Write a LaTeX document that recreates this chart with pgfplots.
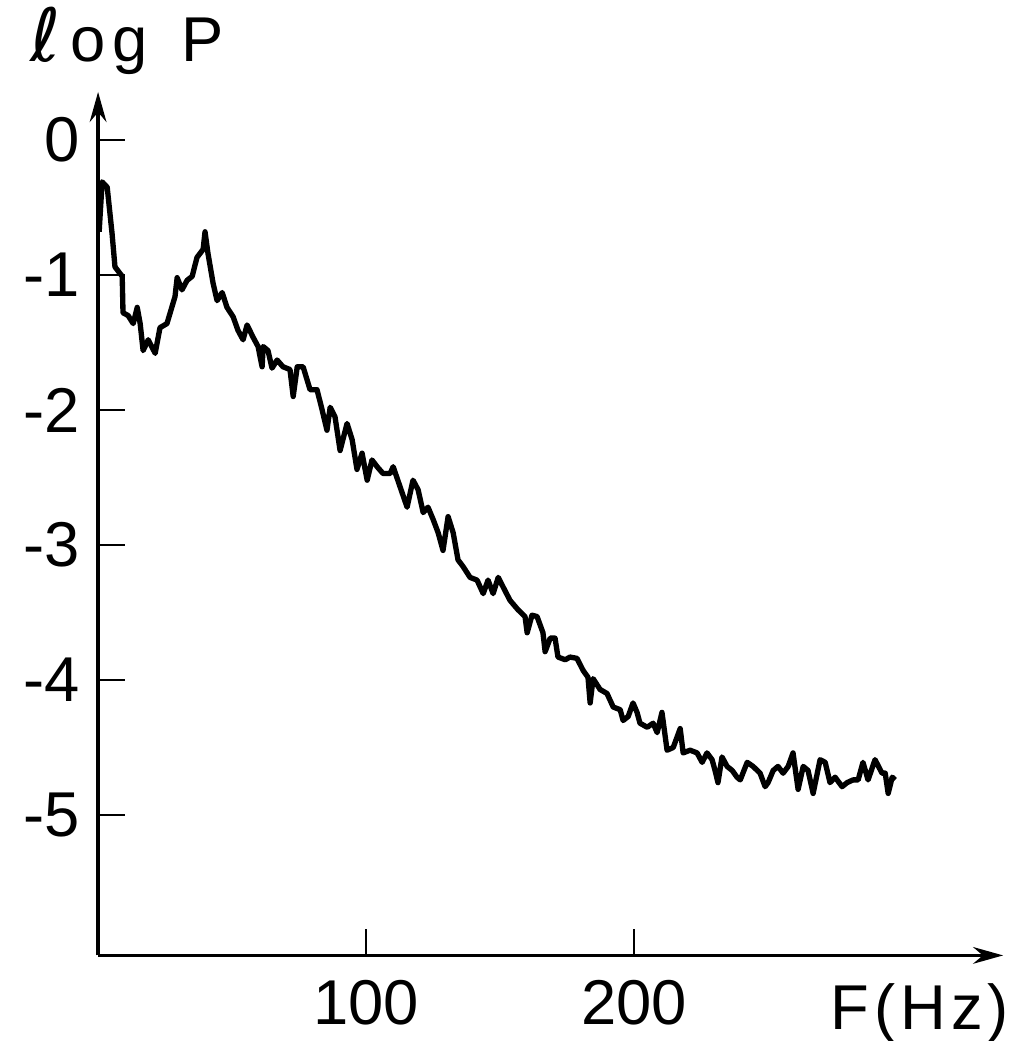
\documentclass[border=0pt]{standalone}
\usepackage{pgfplots}
\pgfplotsset{compat=1.18}
\usepackage{fontspec}
\setmainfont{Liberation Sans}
\newfontfamily\dejavu{DejaVu Sans}
\usetikzlibrary{arrows.meta}

\begin{document}
\begin{tikzpicture}
\begin{axis}[
    x=0.804pt, y=40.5pt,
    xmin=0, xmax=337.7,
    ymin=-6.04, ymax=0.356,
    axis lines=left,
    axis line style={line width=1.1pt, -{Stealth[length=9pt,width=5pt]}},
    tick align=inside,
    major tick length=8pt,
    tick style={line width=0.6pt, black},
    xtick={100,200}, xticklabels={100,200},
    ytick={-5,-4,-3,-2,-1,0}, yticklabels={-5,-4,-3,-2,-1,0},
    ticklabel style={font=\fontsize{19}{19}\selectfont},
    xticklabel style={yshift=-4pt},
    yticklabel style={xshift=-2pt},
    clip=false,
]
\addplot[black, line width=1.6pt, line join=round] coordinates {
(0.4,-0.68)(1.5,-0.31)(3.4,-0.35)(5.2,-0.69)(6.3,-0.94)(9.0,-1.01)(9.3,-1.28)
(11.2,-1.30)(13.1,-1.36)(14.6,-1.24)(15.7,-1.36)(16.8,-1.56)(18.7,-1.48)(21.3,-1.58)
(23.1,-1.39)(25.7,-1.36)(26.9,-1.28)(28.7,-1.16)(29.5,-1.02)(31.3,-1.11)(33.2,-1.04)
(35.1,-1.01)(36.9,-0.87)(39.2,-0.81)(39.9,-0.68)(41.0,-0.84)(42.9,-1.06)(44.4,-1.19)
(46.3,-1.13)(48.1,-1.24)(50.4,-1.31)(52.2,-1.41)(54.1,-1.48)(55.6,-1.37)(57.8,-1.46)
(59.7,-1.53)(61.2,-1.68)(61.6,-1.53)(63.4,-1.56)(64.9,-1.69)(66.8,-1.63)(69.0,-1.68)
(71.6,-1.70)(72.8,-1.90)(74.3,-1.68)(76.5,-1.68)(79.1,-1.85)(81.7,-1.85)(83.6,-2.00)
(85.4,-2.15)(86.6,-1.98)(88.4,-2.05)(90.3,-2.30)(92.9,-2.10)(94.8,-2.22)(96.6,-2.44)
(98.5,-2.32)(100.4,-2.52)(102.2,-2.37)(104.1,-2.42)(106.3,-2.47)(109.0,-2.47)(110.1,-2.42)
(112.7,-2.57)(115.3,-2.72)(117.5,-2.52)(119.4,-2.59)(121.3,-2.76)(123.1,-2.72)(125.0,-2.81)
(126.9,-2.91)(128.7,-3.04)(130.6,-2.79)(132.5,-2.91)(134.3,-3.11)(136.2,-3.16)(138.8,-3.24)
(141.4,-3.26)(143.7,-3.36)(145.5,-3.26)(147.4,-3.36)(149.3,-3.24)(151.1,-3.31)(153.7,-3.41)
(156.7,-3.48)(159.3,-3.53)(160.1,-3.65)(161.9,-3.52)(163.8,-3.53)(166.0,-3.65)(166.8,-3.79)
(168.7,-3.69)(170.5,-3.69)(171.6,-3.83)(174.3,-3.85)(176.1,-3.83)(178.7,-3.84)(181.0,-3.93)
(182.8,-3.98)(183.6,-4.17)(184.7,-3.99)(187.3,-4.07)(189.9,-4.10)(192.2,-4.20)(194.8,-4.22)
(195.9,-4.30)(197.8,-4.27)(199.6,-4.17)(201.1,-4.24)(202.2,-4.32)(204.9,-4.35)(207.1,-4.32)
(208.6,-4.39)(210.4,-4.24)(212.3,-4.52)(214.6,-4.50)(217.2,-4.36)(218.3,-4.54)(220.9,-4.52)
(223.5,-4.54)(225.4,-4.61)(227.2,-4.54)(229.1,-4.59)(230.2,-4.67)(231.3,-4.76)(232.8,-4.57)
(234.7,-4.64)(236.6,-4.67)(238.4,-4.72)(239.6,-4.74)(242.2,-4.61)(244.4,-4.64)(247.0,-4.69)
(248.9,-4.79)(250.0,-4.76)(251.9,-4.67)(253.7,-4.64)(255.6,-4.69)(257.5,-4.64)(259.3,-4.54)
(261.2,-4.81)(263.1,-4.64)(264.9,-4.67)(266.8,-4.84)(269.4,-4.59)(271.3,-4.61)(273.1,-4.76)
(275.0,-4.72)(277.6,-4.79)(279.5,-4.76)(281.7,-4.74)(283.6,-4.74)(285.4,-4.61)(287.3,-4.74)
(289.9,-4.59)(292.5,-4.69)(293.7,-4.69)(294.8,-4.84)(296.3,-4.72)(297.4,-4.74)
};
\node[anchor=base west, font=\fontsize{19}{19}\selectfont, inner sep=0pt]
    at (axis cs:-25.4,0.578) {{\dejavu\fontsize{22}{22}\selectfont ℓ}\hspace{3pt}o\hspace{2pt}g\hspace{10pt}P};
\node[anchor=base west, font=\fontsize{19}{19}\selectfont, inner sep=0pt]
    at (axis cs:273.1,-6.59) {F\hspace{1.5pt}(\hspace{1.5pt}H\hspace{1.5pt}z\hspace{1.5pt})};
\coordinate (bbA) at (axis cs:-36.6,1.037);
\coordinate (bbB) at (axis cs:343.7,-6.674);
\end{axis}
\pgfresetboundingbox
\useasboundingbox (bbA) rectangle (bbB);
\end{tikzpicture}
\end{document}
